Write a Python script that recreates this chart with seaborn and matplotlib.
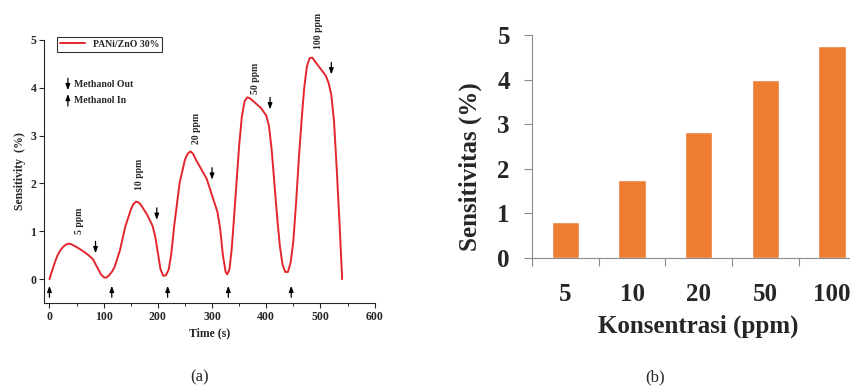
import matplotlib
matplotlib.use("Agg")
import matplotlib.pyplot as plt
from matplotlib.ticker import MultipleLocator
import seaborn as sns
import pandas as pd

# (a) respon sensor terhadap waktu
time_s = [0, 5, 10, 15, 20, 25, 30, 35, 40, 50, 60, 70, 80, 88, 95, 100, 105, 110,
          115, 120, 130, 140, 150, 155, 160, 165, 170, 180, 190, 195, 200, 205, 210, 215,
          220, 225, 230, 240, 250, 255, 260, 265, 270, 280, 290, 300, 310, 315, 320, 325, 328,
          332, 336, 340, 345, 350, 355, 360, 365, 370, 380, 390, 400, 405, 410, 415, 420, 425, 430, 435, 440,
          445, 450, 455, 460, 465, 470, 475, 480, 485, 490, 500, 510, 515, 520, 525, 530, 535, 540]
sens = [0, 0.18, 0.35, 0.5, 0.6, 0.67, 0.72, 0.74, 0.73, 0.67, 0.6, 0.52, 0.42, 0.25, 0.1, 0.04, 0.03, 0.08,
        0.15, 0.25, 0.6, 1.1, 1.45, 1.57, 1.62, 1.6, 1.53, 1.35, 1.12, 0.9, 0.55, 0.2, 0.07, 0.08,
        0.2, 0.55, 1.1, 2.0, 2.5, 2.62, 2.67, 2.62, 2.5, 2.3, 2.1, 1.75, 1.4, 1.05, 0.5, 0.15, 0.1,
        0.2, 0.6, 1.2, 2.0, 2.8, 3.4, 3.72, 3.8, 3.78, 3.68, 3.58, 3.42, 3.2, 2.7, 2.0, 1.3, 0.7, 0.3, 0.15, 0.15,
        0.35, 0.8, 1.6, 2.5, 3.3, 4.0, 4.45, 4.62, 4.63, 4.55, 4.4, 4.25, 4.1, 3.85, 3.3, 2.3, 1.2, 0.0]

out_t = [85, 198, 300, 407, 520]
out_s = [0.66, 1.36, 2.2, 3.67, 4.4]
in_t = [0, 115, 218, 330, 446]
ppm_labels = ["5 ppm", "10 ppm", "20 ppm", "50 ppm", "100 ppm"]
ppm_t = [55, 167, 272, 380, 497]
ppm_s = [1.22, 2.2, 3.15, 4.2, 5.19]

# (b) sensitivitas per konsentrasi
konsentrasi = ["5", "10", "20", "50", "100"]
sensitivitas = [0.80, 1.75, 2.82, 3.99, 4.75]

sns.set_style("ticks")
plt.rcParams['font.family'] = ['Liberation Serif', 'DejaVu Serif']

fig = plt.figure(figsize=(8.5, 3.88), dpi=100)

# ---- panel (a)
ax1 = fig.add_axes([0.0518, 0.219, 0.389, 0.678])
df_a = pd.DataFrame({"t": time_s, "s": sens})
sns.lineplot(data=df_a, x="t", y="s", ax=ax1, color="#e3262e", lw=1.4, label="PANi/ZnO 30%")
ax1.set_xlim(-10, 600)
ax1.set_ylim(-0.5, 5)
ax1.set_xticks(range(0, 601, 100))
ax1.xaxis.set_minor_locator(MultipleLocator(50))
ax1.set_yticks(range(0, 6))
sns.despine(ax=ax1)
ax1.tick_params(labelsize=8.5, length=3.5, width=0.8, pad=2)
ax1.tick_params(which="minor", length=2, width=0.7)
for lab in ax1.get_xticklabels() + ax1.get_yticklabels():
    lab.set_fontweight("bold")
ax1.set_xlabel("Time (s)", fontsize=8.5, fontweight="bold", labelpad=3)
ax1.set_ylabel("Sensitivity  (%)", fontsize=8.5, fontweight="bold", labelpad=3)
leg = ax1.legend(loc="upper left", bbox_to_anchor=(0.025, 1.03),
                 prop={"weight": "bold", "size": 7}, frameon=True, fancybox=False,
                 handlelength=2.6, borderpad=0.3)
leg.get_frame().set_edgecolor("black")
leg.get_frame().set_linewidth(0.8)

arrow = dict(arrowstyle="-|>,head_length=0.35,head_width=0.13", color="black", lw=0.9,
             shrinkA=0, shrinkB=0)
for t, s in zip(out_t, out_s):
    ax1.annotate("", xy=(t, s - 0.12), xytext=(t, s + 0.13), arrowprops=arrow)
for t in in_t:
    ax1.annotate("", xy=(t, -0.14), xytext=(t, -0.38), arrowprops=arrow, annotation_clip=False)
for lab, t, s in zip(ppm_labels, ppm_t, ppm_s):
    ax1.text(t, s, lab, rotation=90, ha="center", va="center", fontsize=7,
             fontweight="bold", clip_on=False)

ax1.annotate("", xy=(34, 3.95), xytext=(34, 4.2), arrowprops=arrow)
ax1.annotate("", xy=(34, 3.87), xytext=(34, 3.62), arrowprops=arrow)
ax1.text(46, 4.07, "Methanol Out", fontsize=7, fontweight="bold", va="center")
ax1.text(46, 3.74, "Methanol In", fontsize=7, fontweight="bold", va="center")

# ---- panel (b)
ax2 = fig.add_axes([0.626, 0.335, 0.392, 0.575])
df_b = pd.DataFrame({"k": konsentrasi, "s": sensitivitas})
sns.barplot(data=df_b, x="k", y="s", ax=ax2, color="#ed7d31", saturation=1, width=0.41)
ax2.set_xlim(-0.5, 4.5)
ax2.set_ylim(0, 5)
sns.despine(ax=ax2)
ax2.spines["left"].set_color("#8c8c8c")
ax2.spines["bottom"].set_color("#8c8c8c")
ax2.set_xticks([i - 0.5 for i in range(6)])
ax2.set_xticklabels([])
ax2.set_xticks(range(len(konsentrasi)), minor=True)
ax2.set_xticklabels(konsentrasi, minor=True)
ax2.tick_params(axis="x", which="major", length=6, color="#8c8c8c")
ax2.tick_params(axis="x", which="minor", length=0, pad=18, labelsize=18)
ax2.tick_params(axis="y", length=6, color="#8c8c8c", labelsize=18, pad=10)
ax2.set_yticks(range(0, 6))
for lab in ax2.get_xticklabels(minor=True) + ax2.get_yticklabels():
    lab.set_fontweight("bold")
ax2.set_xlabel("Konsentrasi (ppm)", fontsize=18, fontweight="bold", labelpad=6)
ax2.set_ylabel("Sensitivitas (%)", fontsize=18, fontweight="bold")
ax2.yaxis.set_label_coords(-0.15, 0.41)

fig.text(200 / 850, 1 - 377 / 388, "(a)", ha="center", va="center", fontsize=12)
fig.text(655 / 850, 1 - 377 / 388, "(b)", ha="center", va="center", fontsize=12)

fig.savefig("out.png", dpi=100)
